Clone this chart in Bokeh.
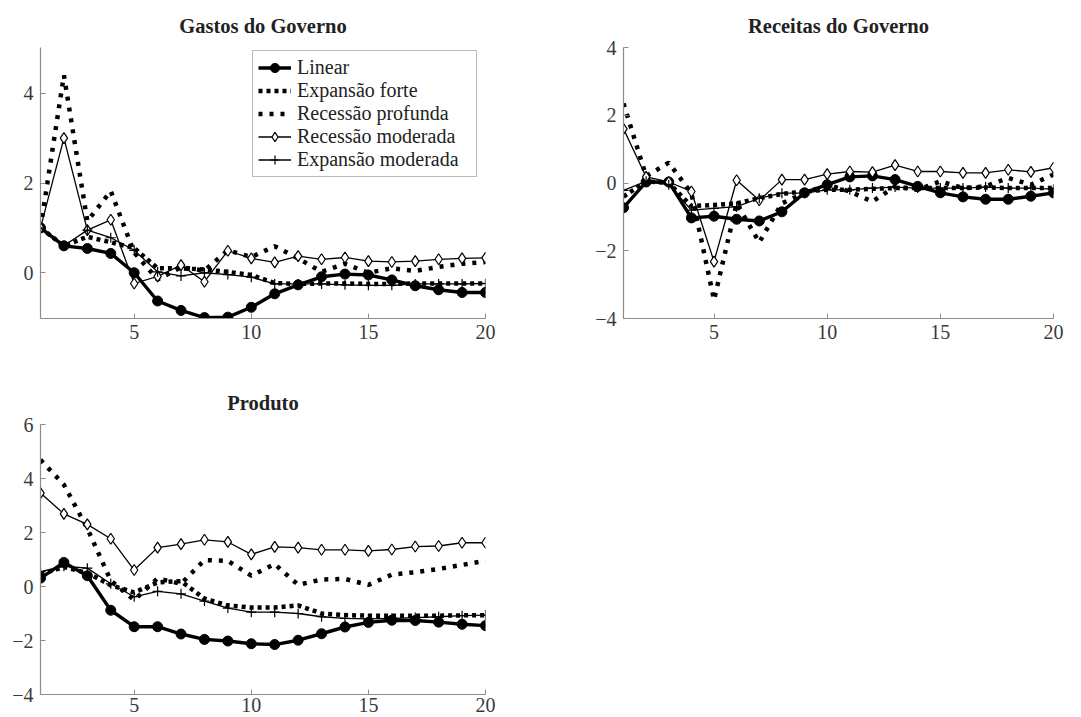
from bokeh.plotting import figure
from bokeh.layouts import column, row
from bokeh.models import Range1d, FixedTicker, CustomJSTickFormatter, Legend, LegendItem
from bokeh.embed import file_html
from bokeh.resources import INLINE

periods = list(range(1, 21))

series_names = ["Linear", "Expansão forte", "Recessão profunda", "Recessão moderada", "Expansão moderada"]

# Gastos do Governo
g_linear = [1.0, 0.6, 0.54, 0.43, 0.0, -0.63, -0.84, -1.0, -0.99, -0.77, -0.47, -0.27, -0.09, -0.03, -0.05, -0.16, -0.29, -0.38, -0.44, -0.44]
g_exp_forte = [1.0, 0.6, 0.8, 0.68, 0.55, 0.1, 0.1, 0.07, 0.02, -0.05, -0.23, -0.25, -0.24, -0.24, -0.25, -0.25, -0.24, -0.24, -0.24, -0.24]
g_rec_prof = [1.0, 4.4, 1.15, 1.82, 0.45, -0.15, 0.12, 0.05, 0.5, 0.35, 0.59, 0.32, 0.02, 0.2, 0.0, 0.1, 0.04, 0.13, 0.2, 0.24]
g_rec_mod = [1.0, 3.0, 0.95, 1.18, -0.24, -0.08, 0.17, -0.2, 0.49, 0.32, 0.23, 0.37, 0.3, 0.34, 0.26, 0.24, 0.26, 0.3, 0.32, 0.33]
g_exp_mod = [1.0, 0.6, 0.95, 0.78, 0.5, 0.02, -0.07, 0.0, -0.04, -0.1, -0.25, -0.25, -0.25, -0.27, -0.28, -0.28, -0.25, -0.25, -0.25, -0.24]

# Receitas do Governo
r_linear = [-0.73, 0.03, 0.03, -1.03, -0.98, -1.07, -1.12, -0.85, -0.29, -0.05, 0.18, 0.21, 0.1, -0.1, -0.29, -0.41, -0.48, -0.48, -0.39, -0.29]
r_exp_forte = [-0.4, 0.05, 0.0, -0.68, -0.65, -0.6, -0.45, -0.32, -0.25, -0.2, -0.2, -0.17, -0.15, -0.15, -0.15, -0.15, -0.13, -0.15, -0.15, -0.15]
r_rec_prof = [2.35, 0.2, 0.6, -0.3, -3.45, -0.6, -1.75, -0.6, -0.3, -0.05, -0.25, -0.55, -0.1, -0.2, 0.05, -0.15, -0.1, 0.15, -0.05, 0.25]
r_rec_mod = [1.6, 0.18, 0.03, -0.25, -2.32, 0.08, -0.51, 0.1, 0.1, 0.26, 0.34, 0.32, 0.53, 0.34, 0.34, 0.3, 0.3, 0.39, 0.33, 0.45]
r_exp_mod = [-0.22, 0.05, -0.05, -0.8, -0.75, -0.7, -0.45, -0.3, -0.3, -0.2, -0.2, -0.15, -0.12, -0.15, -0.15, -0.15, -0.12, -0.15, -0.15, -0.18]

# Produto
p_linear = [0.31, 0.89, 0.4, -0.88, -1.49, -1.49, -1.76, -1.96, -2.02, -2.12, -2.15, -1.99, -1.75, -1.5, -1.33, -1.25, -1.26, -1.32, -1.4, -1.45]
p_exp_forte = [0.45, 0.72, 0.5, 0.05, -0.22, 0.15, 0.2, -0.45, -0.7, -0.78, -0.78, -0.7, -1.0, -1.06, -1.08, -1.08, -1.08, -1.08, -1.07, -1.06]
p_rec_prof = [4.69, 3.77, 2.15, 0.22, -0.5, 0.3, 0.1, 0.98, 0.95, 0.4, 0.83, 0.06, 0.26, 0.28, 0.06, 0.44, 0.53, 0.65, 0.8, 0.95]
p_rec_mod = [3.46, 2.69, 2.3, 1.77, 0.61, 1.44, 1.57, 1.73, 1.65, 1.19, 1.47, 1.44, 1.36, 1.36, 1.32, 1.37, 1.48, 1.5, 1.62, 1.62]
p_exp_mod = [0.55, 0.75, 0.68, 0.1, -0.38, -0.18, -0.27, -0.54, -0.8, -0.95, -0.95, -1.0, -1.12, -1.18, -1.2, -1.18, -1.15, -1.12, -1.08, -1.06]

x_ticks = [5, 10, 15, 20]
g_yticks = [0, 2, 4]
r_yticks = [-4, -2, 0, 2, 4]
p_yticks = [-4, -2, 0, 2, 4, 6]

FONT = "Liberation Serif"
AXIS_GRAY = "#8c8c8c"
LABEL_COLOR = "#3a3a3a"


def make_panel(title, w, h, lb, rb, tb, bb, ymin, ymax, yticks, data, xstand):
    p = figure(width=w, height=h, x_range=Range1d(1, 20), y_range=Range1d(ymin, ymax),
               output_backend="svg", toolbar_location=None, title=title,
               min_border_left=lb, min_border_right=rb, min_border_top=tb, min_border_bottom=bb)
    p.outline_line_color = None
    p.grid.visible = False
    p.background_fill_color = "white"
    p.border_fill_color = "white"
    p.title.align = "center"
    p.title.text_font = FONT
    p.title.text_font_style = "bold"
    p.title.text_font_size = "20.5px"
    p.title.text_color = "#222222"
    p.title.standoff = 22
    fmt = CustomJSTickFormatter(code="return tick < 0 ? '\u2212' + Math.abs(tick) : String(tick);")
    for ax, ticks in ((p.xaxis[0], x_ticks), (p.yaxis[0], yticks)):
        ax.ticker = FixedTicker(ticks=ticks)
        ax.formatter = fmt
        ax.axis_line_color = AXIS_GRAY
        ax.axis_line_width = 1.2
        ax.major_tick_line_color = AXIS_GRAY
        ax.major_tick_in = 5
        ax.major_tick_out = 0
        ax.minor_tick_line_color = None
        ax.major_label_text_font = FONT
        ax.major_label_text_font_size = "20px"
        ax.major_label_text_color = LABEL_COLOR
    p.xaxis.major_label_standoff = xstand
    p.yaxis.major_label_standoff = 7

    lin, ef, rp, rm, em = data
    items = []
    r1 = p.line(periods, lin, line_color="black", line_width=3.4)
    r1m = p.scatter(periods, lin, marker="circle", size=10, fill_color="black", line_color="black")
    items.append((series_names[0], [r1, r1m]))
    r2 = p.line(periods, ef, line_color="black", line_width=4.5, line_dash="4 4")
    items.append((series_names[1], [r2]))
    r3 = p.line(periods, rp, line_color="black", line_width=4.5, line_dash="4 7")
    items.append((series_names[2], [r3]))
    r4 = p.line(periods, rm, line_color="black", line_width=1.3)
    r4m = p.scatter(periods, rm, marker="diamond", size=11, fill_color="white", line_color="black", line_width=1.2)
    items.append((series_names[3], [r4, r4m]))
    r5 = p.line(periods, em, line_color="black", line_width=1.3)
    r5m = p.scatter(periods, em, marker="cross", size=10, line_color="black", line_width=1.2)
    items.append((series_names[4], [r5, r5m]))
    return p, items


p1, items1 = make_panel("Gastos do Governo", 540, 350, 40, 55, 47, 32, -1.02, 5.02, g_yticks,
                        (g_linear, g_exp_forte, g_rec_prof, g_rec_mod, g_exp_mod), 6)
p2, _ = make_panel("Receitas do Governo", 541, 350, 83, 28, 47, 32, -4, 4, r_yticks,
                   (r_linear, r_exp_forte, r_rec_prof, r_rec_mod, r_exp_mod), 6)
p3, _ = make_panel("Produto", 540, 367, 40, 55, 74, 23, -4, 6, p_yticks,
                   (p_linear, p_exp_forte, p_rec_prof, p_rec_mod, p_exp_mod), 3)

legend = Legend(items=[LegendItem(label=n, renderers=r) for n, r in items1],
                location=(212, 141), orientation="vertical",
                label_text_font=FONT, label_text_font_size="20px", label_text_color="#222222",
                glyph_width=33, glyph_height=23, label_height=23, label_width=174, label_standoff=6,
                spacing=0, padding=5, margin=0,
                border_line_color="#777777", border_line_width=1,
                background_fill_color="white", background_fill_alpha=1.0)
p1.add_layout(legend, "center")

layout = column(row(p1, p2), p3)

with open("out.html", "w") as f:
    f.write(file_html(layout, INLINE))
